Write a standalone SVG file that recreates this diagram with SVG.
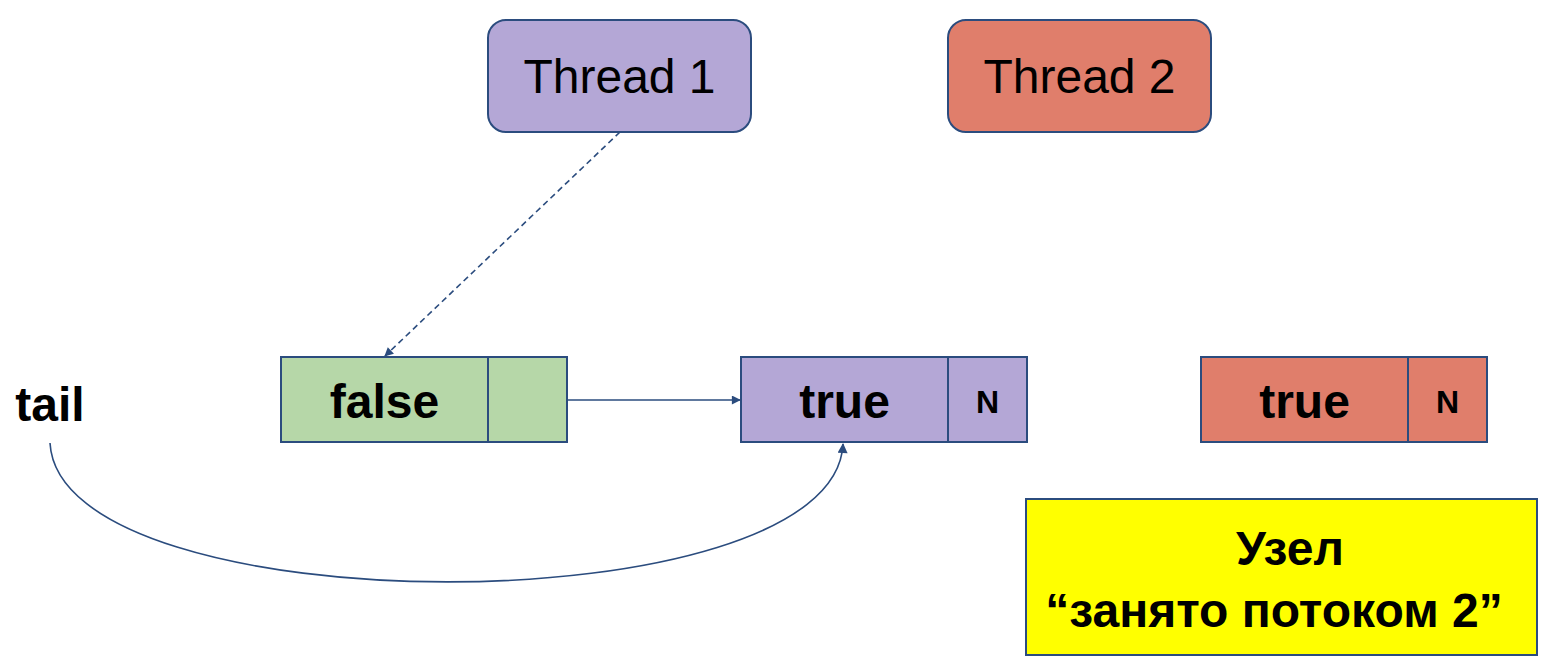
<svg xmlns="http://www.w3.org/2000/svg" width="1562" height="668" viewBox="0 0 1562 668">
<defs>
<style>
.box{stroke:#2b4c7e;stroke-width:2}
.t{font-family:"Liberation Sans",Arial,sans-serif;fill:#000;text-anchor:middle}
.b{font-weight:bold}
.c{fill:none;stroke:#2b4c7e;stroke-width:1.6}
</style>
<marker id="ah" viewBox="0 0 10 10" refX="9" refY="5" markerWidth="10" markerHeight="9" markerUnits="userSpaceOnUse" orient="auto">
<path d="M0,0 L10,5 L0,10 z" fill="#2b4c7e"/>
</marker>
<marker id="ah2" viewBox="0 0 10 10" refX="9" refY="5" markerWidth="11" markerHeight="10" markerUnits="userSpaceOnUse" orient="auto">
<path d="M0,0 L10,5 L0,10 z" fill="#2b4c7e"/>
</marker>
</defs>
<rect width="1562" height="668" fill="#fff"/>
<g id="thread1">
<rect class="box" x="488" y="20" width="263" height="112" rx="18" fill="#b4a7d6"/>
<text class="t" x="619.5" y="93" font-size="48">Thread 1</text>
</g>
<g id="thread2">
<rect class="box" x="948" y="20" width="263" height="112" rx="18" fill="#e07e6b"/>
<text class="t" x="1079.5" y="93" font-size="48">Thread 2</text>
</g>
<g id="tail">
<text class="t b" x="50" y="421" font-size="48">tail</text>
</g>
<g id="node-false">
<rect class="box" x="281" y="357" width="286" height="85" fill="#b6d7a8"/>
<line class="box" x1="488" y1="357" x2="488" y2="442"/>
<text class="t b" x="384.5" y="418" font-size="48">false</text>
</g>
<g id="node-true1">
<rect class="box" x="741" y="357" width="286" height="85" fill="#b4a7d6"/>
<line class="box" x1="948" y1="357" x2="948" y2="442"/>
<text class="t b" x="844.5" y="418" font-size="48">true</text>
<text class="t b" x="987.5" y="413" font-size="32">N</text>
</g>
<g id="node-true2">
<rect class="box" x="1201" y="357" width="286" height="85" fill="#e07e6b"/>
<line class="box" x1="1408" y1="357" x2="1408" y2="442"/>
<text class="t b" x="1304.5" y="418" font-size="48">true</text>
<text class="t b" x="1447.5" y="413" font-size="32">N</text>
</g>
<g id="note">
<rect class="box" x="1026" y="499" width="511" height="156" fill="#ffff00"/>
<text class="t b" x="1290" y="565" font-size="48">Узел</text>
<text class="t b" x="1274" y="627" font-size="48">“занято потоком 2”</text>
</g>
<g id="connectors">
<line class="c" x1="620" y1="132" x2="385" y2="356" stroke-dasharray="6,4" marker-end="url(#ah)"/>
<line class="c" x1="567" y1="400" x2="740" y2="400" marker-end="url(#ah)"/>
<path class="c" d="M50,443 C60,628 835,628 843,444" marker-end="url(#ah2)"/>
</g>
</svg>
